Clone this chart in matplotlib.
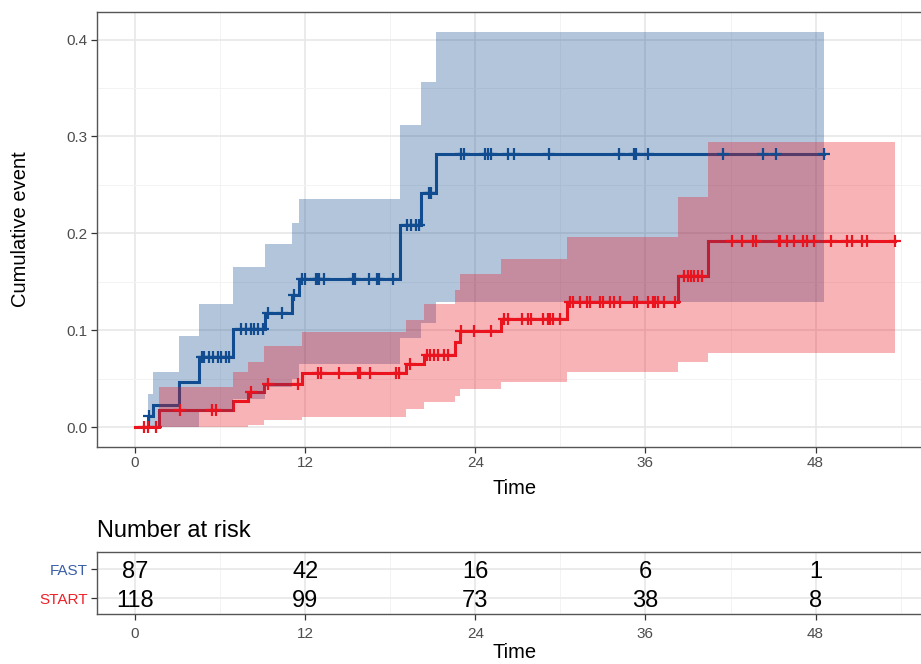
import numpy as np
import matplotlib
matplotlib.use("Agg")
import matplotlib.pyplot as plt

plt.rcParams['font.family'] = ['Liberation Sans', 'DejaVu Sans']

# FAST group: event times, cumulative event and confidence band
fast_t = [0, 0.9, 1.3, 3.1, 4.5, 6.9, 9.2, 11.1, 11.6, 18.7, 20.2, 21.2]
fast_cum = [0, 0.012, 0.023, 0.047, 0.072, 0.101, 0.118, 0.136, 0.153, 0.209, 0.242, 0.282]
fast_upper = [0, 0.034, 0.057, 0.094, 0.127, 0.165, 0.189, 0.211, 0.235, 0.312, 0.356, 0.408]
fast_lower = [0, 0, 0, 0, 0.016, 0.029, 0.042, 0.050, 0.065, 0.092, 0.108, 0.129]
fast_end = 48.6
fast_censor = [1.0, 4.7, 4.9, 5.2, 5.5, 5.85, 6.1, 6.4, 6.6, 7.5, 7.8, 8.2, 8.4, 8.7, 9.0,
               9.4, 10.4, 11.2, 11.8, 12.0, 12.8, 12.9, 13.0, 13.3, 15.4, 15.5, 16.5, 17.1,
               17.2, 18.2, 19.2, 19.5, 19.8, 20.0, 20.7, 20.9, 23.0, 23.2, 24.7, 24.9, 25.1,
               26.3, 26.7, 29.2, 34.1, 35.2, 35.3, 36.2, 41.5, 44.3, 45.2, 48.6]

# START group
start_t = [0, 1.7, 6.9, 8.0, 9.1, 11.8, 19.1, 20.4, 22.6, 22.9, 25.8, 30.5, 38.3, 40.4]
start_cum = [0, 0.018, 0.027, 0.036, 0.045, 0.056, 0.065, 0.075, 0.088, 0.099, 0.112, 0.129, 0.156, 0.192]
start_upper = [0, 0.042, 0.057, 0.067, 0.084, 0.098, 0.111, 0.127, 0.142, 0.158, 0.174, 0.196, 0.238, 0.294]
start_lower = [0, 0, 0, 0.002, 0.007, 0.011, 0.019, 0.026, 0.032, 0.039, 0.047, 0.057, 0.067, 0.077]
start_end = 53.6
start_censor = [0.6, 0.9, 1.5, 3.2, 5.4, 5.7, 8.2, 9.4, 11.5, 12.9, 13.1, 14.4, 15.7, 15.9,
                16.6, 18.4, 18.6, 19.4, 20.6, 20.8, 21.1, 21.4, 21.8, 22.1, 23.0, 23.9, 25.1,
                26.0, 26.3, 27.3, 27.7, 27.9, 28.8, 29.1, 29.3, 29.5, 30.0, 30.7, 30.9, 31.4,
                31.9, 32.1, 32.8, 33.0, 33.5, 33.8, 34.2, 35.2, 35.4, 36.2, 36.5, 36.7, 36.9,
                37.3, 38.1, 38.7, 39.0, 39.2, 39.4, 39.7, 40.0, 42.1, 42.8, 43.6, 43.8, 45.4,
                45.5, 46.0, 46.5, 47.1, 47.4, 47.9, 49.1, 50.2, 50.6, 51.3, 51.6, 53.6]

# number at risk table
risk_times = [0, 12, 24, 36, 48]
fast_risk = [87, 42, 16, 6, 1]
start_risk = [118, 99, 73, 38, 8]

blue = '#104C8F'
red = '#EB141E'

groups = [
    ("FAST", fast_t, fast_cum, fast_upper, fast_lower, fast_end, fast_censor, blue),
    ("START", start_t, start_cum, start_upper, start_lower, start_end, start_censor, red),
]

fig = plt.figure(figsize=(9.21, 6.64), dpi=100)
W, H = 921, 664
ax = fig.add_axes([97 / W, 1 - 447 / H, (933 - 97) / W, (447 - 12) / H])
ax_t = fig.add_axes([97 / W, 1 - 614 / H, (933 - 97) / W, 62 / H])

xlim = (-2.68, 56.28)

# lines first, bands over them, censor marks on top (as ggsurvplot does)
for name, t, cum, up, lo, end, cens, col in groups:
    tt = list(t) + [end]
    ax.step(tt, list(cum) + [cum[-1]], where='post', color=col, lw=2.2, zorder=3,
            solid_joinstyle='miter')
for name, t, cum, up, lo, end, cens, col in groups:
    tt = list(t) + [end]
    ax.fill_between(tt, list(lo) + [lo[-1]], list(up) + [up[-1]], step='post',
                    color=col, alpha=0.32, lw=0, zorder=4)
for name, t, cum, up, lo, end, cens, col in groups:
    idx = np.searchsorted(t, cens, side='right') - 1
    ax.plot(cens, np.array(cum)[idx], ls='none', marker='+', ms=8, mew=1.6,
            color=col, zorder=5)

ax.set_xlim(*xlim)
ax.set_ylim(-0.0204, 0.4284)
ax.set_xticks(risk_times)
ax.set_xticks([6, 18, 30, 42, 54], minor=True)
ax.set_yticks([0, 0.1, 0.2, 0.3, 0.4])
ax.set_yticklabels(["0.0", "0.1", "0.2", "0.3", "0.4"])
ax.set_yticks([0.05, 0.15, 0.25, 0.35], minor=True)
ax.grid(which='major', color='#E6E6E6', lw=1.1, zorder=0)
ax.grid(which='minor', color='#F3F3F3', lw=0.7, zorder=0)
ax.set_axisbelow(True)
ax.set_xlabel("Time", fontsize=14.5, labelpad=6.5)
ax.set_ylabel("Cumulative event", fontsize=14.5, labelpad=26)

for a in (ax, ax_t):
    for s in a.spines.values():
        s.set_color('#555555')
        s.set_linewidth(1.0)
    a.tick_params(which='major', length=4.3, width=0.9, color='#333333',
                  labelcolor='#4D4D4D', labelsize=11, pad=2.5)
    a.tick_params(which='minor', length=0)
ax_t.tick_params(axis='x', pad=5)

# risk table
rows = {"FAST": 1, "START": 0}
for name, vals in (("FAST", fast_risk), ("START", start_risk)):
    for x, v in zip(risk_times, vals):
        ax_t.text(x, rows[name], str(v), ha='center', va='center_baseline', fontsize=17,
                  color='black')
ax_t.set_xlim(*xlim)
ax_t.set_ylim(-0.55, 1.6)
ax_t.set_xticks(risk_times)
ax_t.set_xticks([6, 18, 30, 42, 54], minor=True)
ax_t.set_yticks([1, 0])
ax_t.set_yticklabels(["FAST", "START"])
ax_t.get_yticklabels()[0].set_color('#3A5FA8')
ax_t.get_yticklabels()[1].set_color('#F0202A')
ax_t.grid(which='major', color='#E6E6E6', lw=1.1)
ax_t.grid(which='minor', axis='x', color='#F3F3F3', lw=0.7)
ax_t.set_axisbelow(True)
ax_t.set_xlabel("Time", fontsize=14.5, labelpad=1.5)

fig.text(97 / W, 1 - 537 / H, "Number at risk", fontsize=17, va='baseline', ha='left')

fig.savefig("out.png", dpi=100)
